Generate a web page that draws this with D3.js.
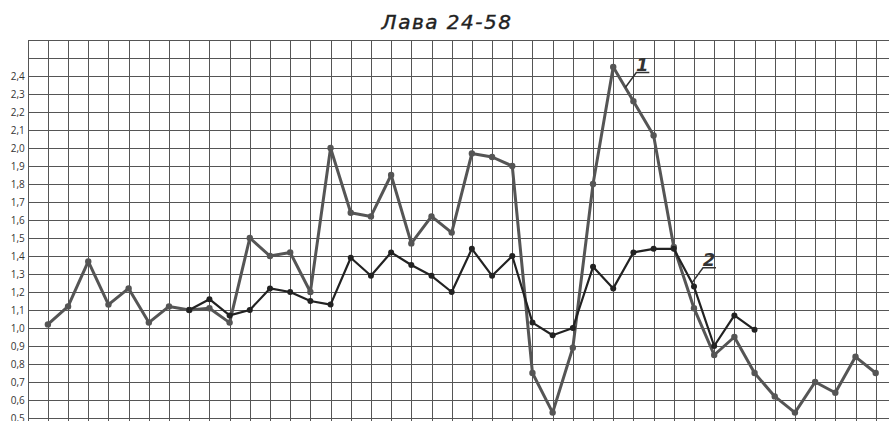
<!DOCTYPE html>
<html>
<head>
    <meta charset="utf-8">
    <title>Лава 24-58</title>
    <script type="text/javascript" src="https://cdn.jsdelivr.net/npm/d3@7"></script>
    <style>
        body { margin: 0; background: #fff; }
        .grid line { stroke: #555; stroke-width: 1; shape-rendering: crispEdges; }
        .grid path { display: none; }
        .y-axis text { font-family: "Open Sans", "DejaVu Sans", sans-serif; font-size: 10px; fill: #333; }
    </style>
</head>
<body>
<script type="text/javascript">
    // values, one per grid column
    var title = "Лава 24-58";
    var series1Start = 1;
    var series1 = [1.02, 1.12, 1.37, 1.13, 1.22, 1.03, 1.12, 1.10, 1.11, 1.03,
                   1.50, 1.40, 1.42, 1.20, 2.00, 1.64, 1.62, 1.85, 1.47, 1.62,
                   1.53, 1.97, 1.95, 1.90, 0.75, 0.53, 0.89, 1.80, 2.45, 2.26,
                   2.07, 1.45, 1.11, 0.85, 0.95, 0.75, 0.62, 0.53, 0.70, 0.64,
                   0.84, 0.75];
    var series2Start = 8;
    var series2 = [1.10, 1.16, 1.07, 1.10, 1.22, 1.20, 1.15, 1.13, 1.39, 1.29,
                   1.42, 1.35, 1.29, 1.20, 1.44, 1.29, 1.40, 1.03, 0.96, 1.00,
                   1.34, 1.22, 1.42, 1.44, 1.44, 1.23, 0.90, 1.07, 0.99];
    var yTicks = [0.5, 0.6, 0.7, 0.8, 0.9, 1.0, 1.1, 1.2, 1.3, 1.4, 1.5,
                  1.6, 1.7, 1.8, 1.9, 2.0, 2.1, 2.2, 2.3, 2.4];
    var yGrid = yTicks.concat([2.5, 2.6]);
    var columns = 42;

    var width = 889, height = 421,
        gridLeft = 27.7, gridRight = 875.7,
        gridTop = 40, gridBottom = 418;

    var svg = d3.select("body").append("svg")
        .attr("width", width)
        .attr("height", height);

    var x = d3.scaleLinear().domain([0, columns]).range([gridLeft, gridRight]);
    var y = d3.scaleLinear().domain([0.5, 2.6]).range([gridBottom, gridTop]);

    // horizontal grid + labels
    var yAxis = d3.axisLeft(y)
        .tickValues(yGrid)
        .tickSize(-(width - gridLeft))
        .tickPadding(3)
        .tickFormat(function(d){ return d > 2.45 ? "" : d3.format(".1f")(d).replace(".", ","); });

    svg.append("g")
        .attr("class", "grid y-axis")
        .attr("transform", "translate(" + gridLeft + ",0)")
        .call(yAxis);

    // vertical grid
    svg.append("g")
        .attr("class", "grid")
        .selectAll("line")
        .data(d3.range(0, columns + 1))
        .join("line")
        .attr("x1", function(d){ return Math.round(x(d)) + 0.5; })
        .attr("x2", function(d){ return Math.round(x(d)) + 0.5; })
        .attr("y1", gridTop)
        .attr("y2", height);

    svg.append("text")
        .attr("x", 447)
        .attr("y", 29)
        .attr("text-anchor", "middle")
        .style("font-family", "DejaVu Sans, sans-serif")
        .style("font-style", "italic")
        .style("font-size", "20px")
        .style("letter-spacing", "1.5px")
        .style("fill", "#222")
        .style("stroke", "#222")
        .style("stroke-width", 0.4)
        .text(title);

    function toPoints(values, start){
        return values.map(function(v, i){ return [start + i, v]; });
    }

    var line = d3.line()
        .x(function(d){ return x(d[0]); })
        .y(function(d){ return y(d[1]); });

    function drawSeries(values, start, color, lw, r){
        var pts = toPoints(values, start);
        var g = svg.append("g");
        g.append("path")
            .datum(pts)
            .attr("d", line)
            .attr("fill", "none")
            .attr("stroke", color)
            .attr("stroke-width", lw)
            .attr("stroke-linejoin", "round");
        g.selectAll("circle")
            .data(pts)
            .join("circle")
            .attr("cx", function(d){ return x(d[0]); })
            .attr("cy", function(d){ return y(d[1]); })
            .attr("r", r)
            .attr("fill", color);
        return pts;
    }

    var p1 = drawSeries(series1, series1Start, "#555", 3, 3.2);
    var p2 = drawSeries(series2, series2Start, "#222", 2.2, 3);

    // callout labels "1" and "2"
    function callout(pts, k, t, label){
        var a = pts[k], b = pts[k + 1];
        var px = x(a[0]) + (x(b[0]) - x(a[0])) * t,
            py = y(a[1]) + (y(b[1]) - y(a[1])) * t;
        var ux = px + 11, uy = py - 15;
        svg.append("path")
            .attr("d", "M" + px + "," + py + "L" + ux + "," + uy + "H" + (ux + 13))
            .attr("fill", "none")
            .attr("stroke", "#333")
            .attr("stroke-width", 1.5);
        svg.append("text")
            .attr("x", ux + 6)
            .attr("y", uy - 2)
            .attr("text-anchor", "middle")
            .style("font-family", "DejaVu Sans, sans-serif")
            .style("font-style", "italic")
            .style("font-weight", "bold")
            .style("font-size", "18px")
            .style("fill", "#333")
            .text(label);
    }

    callout(p1, 29 - series1Start, 0.6, "1");
    callout(p2, 32 - series2Start, 0.9, "2");
</script>
</body>
</html>
